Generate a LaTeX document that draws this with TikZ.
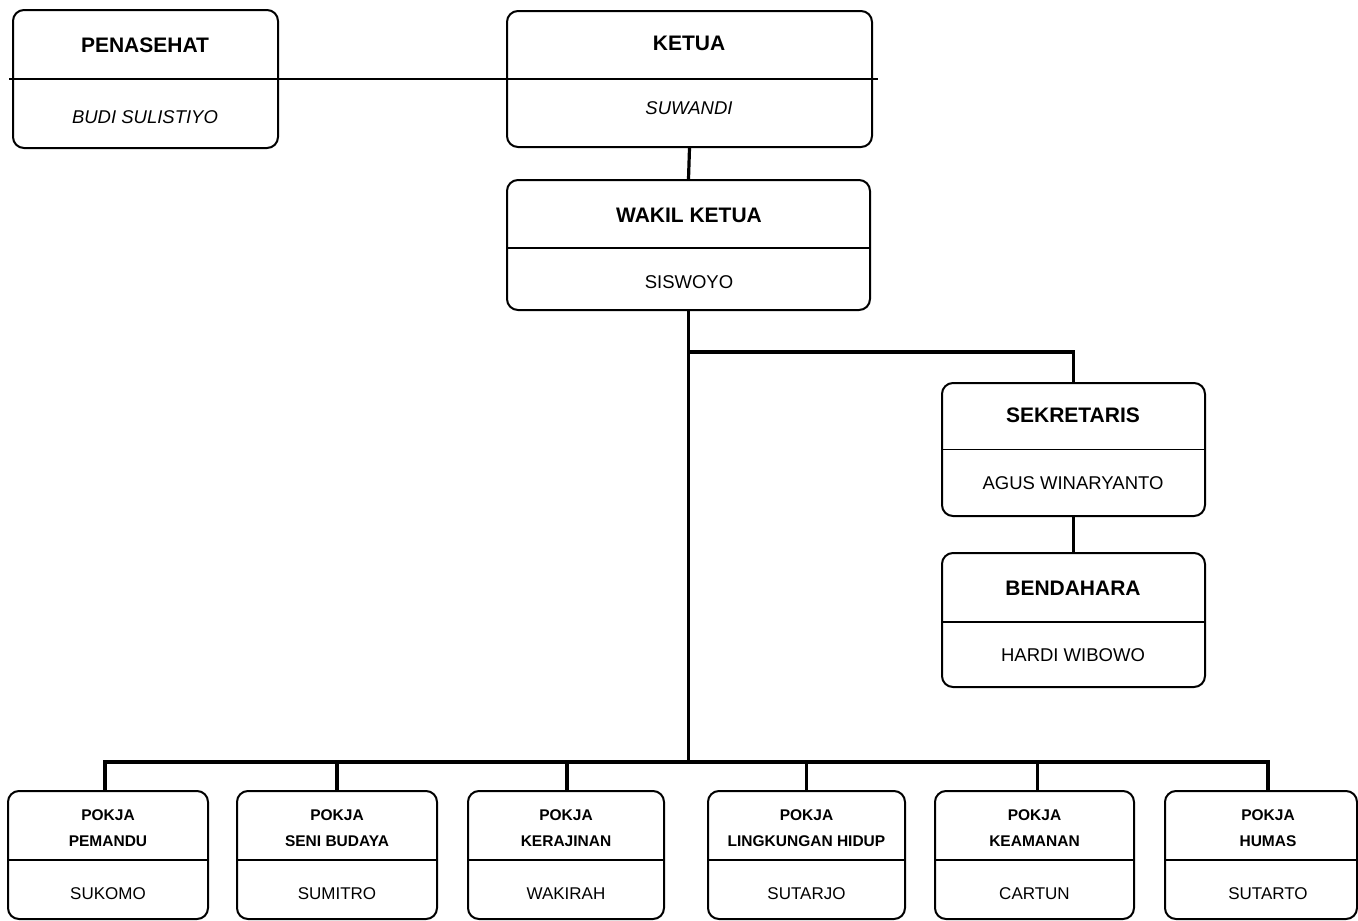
\documentclass[tikz,border=0pt]{standalone}
\usepackage{fontspec}
\setmainfont{Liberation Sans}
\begin{document}
\begin{tikzpicture}[x=1pt,y=-1pt,
  box/.style={draw, rounded corners=11pt, line width=2pt, inner sep=0pt},
  conn/.style={line width=3.2pt, line cap=rect},
  div/.style={line width=1.5pt},
  ttl/.style={font=\fontsize{21}{24}\selectfont\bfseries, inner sep=0pt},
  nm/.style={font=\fontsize{18.5}{22}\selectfont, inner sep=0pt},
  nmi/.style={font=\fontsize{18.5}{22}\selectfont\itshape, inner sep=0pt},
  sttl/.style={font=\fontsize{15.5}{18}\selectfont\bfseries, inner sep=0pt},
  snm/.style={font=\fontsize{17}{20}\selectfont, inner sep=0pt}]
\useasboundingbox (0,0) rectangle (1358,921);

% boxes
\node[box, minimum width=265pt, minimum height=138pt] (pen) at (145.5,79) {};
\node[box, minimum width=365pt, minimum height=136pt] (ket) at (689.5,79) {};
\node[box, minimum width=363pt, minimum height=130pt] (wak) at (688.5,245) {};
\node[box, minimum width=263pt, minimum height=133pt] (sek) at (1073.5,449.5) {};
\node[box, minimum width=263pt, minimum height=134pt] (ben) at (1073.5,620) {};

\node[box, minimum width=200pt, minimum height=128pt] (b1) at (108,855) {};
\node[box, minimum width=200pt, minimum height=128pt] (b2) at (337,855) {};
\node[box, minimum width=196pt, minimum height=128pt] (b3) at (566,855) {};
\node[box, minimum width=197pt, minimum height=128pt] (b4) at (806.5,855) {};
\node[box, minimum width=199pt, minimum height=128pt] (b5) at (1034.5,855) {};
\node[box, minimum width=192pt, minimum height=128pt] (b6) at (1261,855) {};

% dividers
\draw[line width=2.2pt] ([xshift=-3pt]pen.west) -- ([xshift=5pt]ket.east);
\draw[div] ([yshift=-3pt]wak.west) -- ([yshift=-3pt]wak.east);
\draw[div] (sek.west) -- (sek.east);
\draw[div] ([yshift=-2pt]ben.west) -- ([yshift=-2pt]ben.east);
\foreach \b in {b1,b2,b3,b4,b5,b6}
  \draw[div] ([yshift=-5pt]\b.west) -- ([yshift=-5pt]\b.east);

% connectors
\coordinate (bus) at (688.5,762);
\coordinate (br) at (688.5,352);
\draw[conn] (ket.south) -- (wak.north);
\draw[conn] (wak.south) -- (bus);
\draw[conn] (br) -- (br -| sek.north) -- (sek.north);
\draw[conn] (sek.south) -- (ben.north);
\coordinate (d1) at ([xshift=-3pt]b1.north);
\coordinate (d2) at (b2.north);
\coordinate (d3) at ([xshift=1pt]b3.north);
\coordinate (d4) at (b4.north);
\coordinate (d5) at ([xshift=3pt]b5.north);
\coordinate (d6) at ([xshift=7pt]b6.north);
\draw[conn] (d1 |- bus) -- (d6 |- bus);
\foreach \d in {d1,d2,d3,d4,d5,d6}
  \draw[conn] (\d) -- (\d |- bus);

% texts
\node[ttl] (penT) at (145,45) {PENASEHAT};
\node[nmi] (penN) at (145,117) {BUDI SULISTIYO};
\node[ttl] (ketT) at (689,43) {KETUA};
\node[nmi] (ketN) at (689,108) {SUWANDI};
\node[ttl] (wakT) at (689,215) {WAKIL KETUA};
\node[nm] (wakN) at (689,282) {SISWOYO};
\node[ttl] (sekT) at (1073,415) {SEKRETARIS};
\node[nm] (sekN) at (1073,483) {AGUS WINARYANTO};
\node[ttl] (benT) at (1073,588) {BENDAHARA};
\node[nm] (benN) at (1073,655) {HARDI WIBOWO};

\node[sttl] (b1a) at (108,815) {POKJA};
\node[sttl] (b1b) at (108,841) {PEMANDU};
\node[snm] (b1n) at (108,894) {SUKOMO};
\node[sttl] (b2a) at (337,815) {POKJA};
\node[sttl] (b2b) at (337,841) {SENI BUDAYA};
\node[snm] (b2n) at (337,894) {SUMITRO};
\node[sttl] (b3a) at (566,815) {POKJA};
\node[sttl] (b3b) at (566,841) {KERAJINAN};
\node[snm] (b3n) at (566,894) {WAKIRAH};
\node[sttl] (b4a) at (806.5,815) {POKJA};
\node[sttl] (b4b) at (806.5,841) {LINGKUNGAN HIDUP};
\node[snm] (b4n) at (806.5,894) {SUTARJO};
\node[sttl] (b5a) at (1034.5,815) {POKJA};
\node[sttl] (b5b) at (1034.5,841) {KEAMANAN};
\node[snm] (b5n) at (1034.5,894) {CARTUN};
\node[sttl] (b6a) at (1268,815) {POKJA};
\node[sttl] (b6b) at (1268,841) {HUMAS};
\node[snm] (b6n) at (1268,894) {SUTARTO};
\end{tikzpicture}
\end{document}
